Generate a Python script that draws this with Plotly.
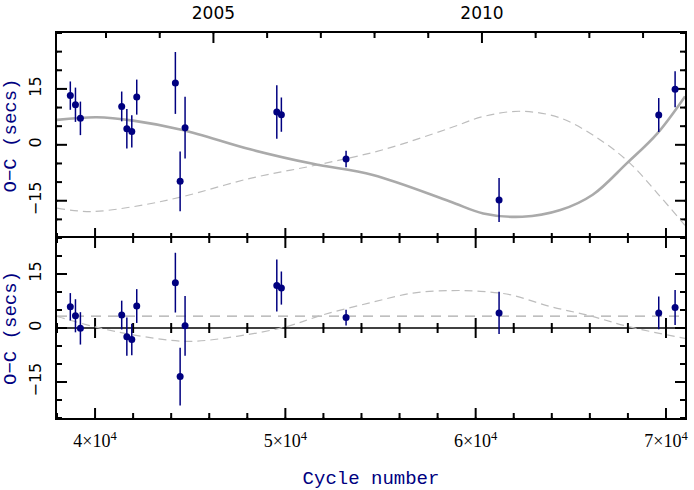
import plotly.graph_objects as go

# ---------------- data ----------------
cycles = [38700, 38970, 39230, 41400, 41670, 41930, 42190, 44220, 44470, 44730,
          49550, 49790, 53190, 61230, 69620, 70480]
oc_secs = [13.2, 10.75, 7.1, 10.3, 4.3, 3.6, 12.8, 16.6, -9.8, 4.6,
           8.8, 8.1, -3.8, -14.8, 8.0, 14.9]
resid_secs = [5.9, 3.4, -0.1, 3.6, -2.4, -3.2, 6.1, 12.6, -13.5, 0.6,
              11.8, 11.1, 2.9, 4.2, 4.2, 5.7]
err_secs = [3.8, 4.6, 4.5, 4.0, 5.3, 4.35, 4.7, 8.3, 8.0, 8.3,
            7.2, 4.6, 2.2, 5.9, 4.55, 4.85]

# top panel model curves
fit_x = [38000, 40100, 42000, 44600, 48150, 51450, 54600, 58650, 60400,
         62450, 64450, 66150, 67950, 69550, 71000]
fit_y = [6.7, 7.4, 6.5, 4.0, -1.2, -5.1, -8.1, -15.2, -18.4,
         -19.3, -17.5, -13.4, -4.9, 3.1, 13.0]
alt_x = [38000, 39750, 42000, 44600, 48150, 51650, 55150, 58650, 60400,
         62350, 64450, 66550, 68100, 69550, 71000]
alt_y = [-17.0, -17.9, -16.6, -13.9, -9.0, -5.4, -1.3, 4.5, 7.6,
         9.0, 7.2, 1.3, -4.9, -13.0, -21.6]

# residual panel model curves
sin_x = [38000, 38400, 40000, 42000, 44850, 47450, 50000, 52000, 54450,
         56700, 58750, 60250, 61800, 63900, 66000, 68100, 71000]
sin_y = [3.2, 2.6, 0.3, -1.9, -3.7, -2.3, 0.3, 3.7, 7.0,
         9.7, 10.4, 10.2, 9.25, 6.0, 3.4, 0.3, -2.9]
flat_x = [38000, 71000]
flat_y = [3.3, 3.3]

# ---------------- axes / ticks ----------------
x_range = [38000, 71000]
top_y_range = [-25, 30]
bot_y_range = [-25, 25]
x_major = [40000, 50000, 60000, 70000]
x_minor = [v for v in range(38000, 71001, 2000) if v not in x_major]
y_major = [-15, 0, 15]
y_major_text = ["−15", "0", "15"]
top_y_minor = [v for v in range(-25, 31, 5) if v not in y_major]
bot_y_minor = [v for v in range(-25, 26, 5) if v not in y_major]
year_major = [2005, 2010]
year_minor = [y for y in range(2003, 2014) if y not in year_major]
CYCLE_AT_2005 = 46220
CYCLES_PER_YEAR = 2822


def cycle_to_year(c):
    return 2005 + (c - CYCLE_AT_2005) / CYCLES_PER_YEAR


NAVY = "#000080"
W, H = 694, 490
M_L, M_R, M_T, M_B = 57, 9, 33, 72
SPLIT = 0.4675
PLOT_W = W - M_L - M_R
PLOT_H = H - M_T - M_B
MAJOR_PX, MINOR_PX = 10, 5
TICK_W = 2.0

X_PER_PX = (x_range[1] - x_range[0]) / PLOT_W
TOP_Y_PER_PX = (top_y_range[1] - top_y_range[0]) / ((1 - SPLIT) * PLOT_H)
BOT_Y_PER_PX = (bot_y_range[1] - bot_y_range[0]) / (SPLIT * PLOT_H)

fig = go.Figure()


def vticks(xs, yv, up_px, down_px, y_per_px, xa, ya):
    n = len(xs)
    fig.add_trace(go.Scatter(
        x=xs, y=[yv] * n, mode="markers", xaxis=xa, yaxis=ya, hoverinfo="skip",
        marker=dict(color="black", size=TICK_W, opacity=1),
        error_y=dict(type="data", symmetric=False, array=[up_px * y_per_px] * n,
                     arrayminus=[down_px * y_per_px] * n, color="#000000",
                     thickness=TICK_W, width=0)))


def hticks(xv, ys, right_px, left_px, xa, ya):
    n = len(ys)
    fig.add_trace(go.Scatter(
        x=[xv] * n, y=ys, mode="markers", xaxis=xa, yaxis=ya, hoverinfo="skip",
        marker=dict(color="black", size=TICK_W, opacity=1),
        error_x=dict(type="data", symmetric=False, array=[right_px * X_PER_PX] * n,
                     arrayminus=[left_px * X_PER_PX] * n, color="#000000",
                     thickness=TICK_W, width=0)))


# ---- top panel ticks ----
vticks(x_major, top_y_range[0], MAJOR_PX, 0, TOP_Y_PER_PX, "x2", "y2")
vticks(x_minor, top_y_range[0], MINOR_PX, 0, TOP_Y_PER_PX, "x2", "y2")
hticks(x_range[0], y_major, MAJOR_PX, 0, "x2", "y2")
hticks(x_range[0], top_y_minor, MINOR_PX, 0, "x2", "y2")
hticks(x_range[1], y_major, 0, MAJOR_PX, "x2", "y2")
hticks(x_range[1], top_y_minor, 0, MINOR_PX, "x2", "y2")
vticks(year_major, top_y_range[1], 0, MAJOR_PX, TOP_Y_PER_PX, "x3", "y2")
vticks(year_minor, top_y_range[1], 0, MINOR_PX, TOP_Y_PER_PX, "x3", "y2")

fig.add_trace(go.Scatter(x=alt_x, y=alt_y, mode="lines", xaxis="x2", yaxis="y2",
                         line=dict(color="#bdbdbd", width=1.2, dash="8px,5px", shape="spline"),
                         hoverinfo="skip"))
fig.add_trace(go.Scatter(x=fit_x, y=fit_y, mode="lines", xaxis="x2", yaxis="y2",
                         line=dict(color="#aaaaaa", width=2.6, shape="spline"),
                         hoverinfo="skip"))
fig.add_trace(go.Scatter(x=cycles, y=oc_secs, mode="markers", xaxis="x2", yaxis="y2",
                         marker=dict(color=NAVY, size=7),
                         error_y=dict(type="data", array=err_secs, color=NAVY,
                                      thickness=1.5, width=0)))

# ---- residual panel ticks ----
vticks(x_major, bot_y_range[0], MAJOR_PX, 0, BOT_Y_PER_PX, "x", "y")
vticks(x_minor, bot_y_range[0], MINOR_PX, 0, BOT_Y_PER_PX, "x", "y")
vticks(x_major, bot_y_range[1], 0, MAJOR_PX, BOT_Y_PER_PX, "x", "y")
vticks(x_minor, bot_y_range[1], 0, MINOR_PX, BOT_Y_PER_PX, "x", "y")
hticks(x_range[0], y_major, MAJOR_PX, 0, "x", "y")
hticks(x_range[0], bot_y_minor, MINOR_PX, 0, "x", "y")
hticks(x_range[1], y_major, 0, MAJOR_PX, "x", "y")
hticks(x_range[1], bot_y_minor, 0, MINOR_PX, "x", "y")
# zero line with ticks on both sides
fig.add_trace(go.Scatter(x=x_range, y=[0, 0], mode="lines", xaxis="x", yaxis="y",
                         line=dict(color="black", width=1.6), hoverinfo="skip"))
vticks(x_major, 0, MAJOR_PX, MAJOR_PX, BOT_Y_PER_PX, "x", "y")
vticks(x_minor, 0, MINOR_PX, MINOR_PX, BOT_Y_PER_PX, "x", "y")

fig.add_trace(go.Scatter(x=flat_x, y=flat_y, mode="lines", xaxis="x", yaxis="y",
                         line=dict(color="#aaaaaa", width=1.2, dash="10px,7px"),
                         hoverinfo="skip"))
fig.add_trace(go.Scatter(x=sin_x, y=sin_y, mode="lines", xaxis="x", yaxis="y",
                         line=dict(color="#bdbdbd", width=1.2, dash="8px,5px",
                                   shape="spline"),
                         hoverinfo="skip"))
fig.add_trace(go.Scatter(x=cycles, y=resid_secs, mode="markers", xaxis="x", yaxis="y",
                         marker=dict(color=NAVY, size=7),
                         error_y=dict(type="data", array=err_secs, color=NAVY,
                                      thickness=1.5, width=0)))

tick_font_x = dict(family="Liberation Serif", size=18, color="black")
tick_font_y = dict(family="DejaVu Sans", size=16, color="black")
title_font = dict(family="Liberation Mono", size=19, color=NAVY)

base = dict(showline=True, linecolor="black", linewidth=1.6, showgrid=False,
            zeroline=False, ticks="", automargin=False)

fig.update_layout(
    width=W, height=H,
    margin=dict(l=M_L, r=M_R, t=M_T, b=M_B, autoexpand=False),
    paper_bgcolor="white", plot_bgcolor="white",
    showlegend=False,
    xaxis=dict(**base, domain=[0, 1], anchor="y", range=x_range, mirror=True,
               tickmode="array", tickvals=x_major,
               exponentformat="power", showexponent="all",
               tickfont=tick_font_x, ticklabelstandoff=6,
               title=dict(text="Cycle number", font=title_font, standoff=26)),
    yaxis=dict(**base, domain=[0, SPLIT], anchor="x", range=bot_y_range, mirror=True,
               tickmode="array", tickvals=y_major, ticktext=y_major_text,
               tickangle=-90, tickfont=tick_font_y, ticklabelstandoff=8,
               title=dict(text="O−C (secs)", font=title_font, standoff=8)),
    xaxis2=dict(showline=False, showgrid=False, zeroline=False, ticks="",
                automargin=False, domain=[0, 1], anchor="y2", range=x_range,
                showticklabels=False),
    yaxis2=dict(**base, domain=[SPLIT, 1], anchor="x2", range=top_y_range, mirror=True,
                tickmode="array", tickvals=y_major, ticktext=y_major_text,
                tickangle=-90, tickfont=tick_font_y, ticklabelstandoff=8,
                title=dict(text="O−C (secs)", font=title_font, standoff=8)),
    xaxis3=dict(**base, overlaying="x2", anchor="y2", side="top",
                range=[cycle_to_year(x_range[0]), cycle_to_year(x_range[1])],
                tickmode="array", tickvals=year_major,
                ticktext=[str(y) for y in year_major],
                tickfont=dict(family="DejaVu Sans", size=17, color="black"),
                ticklabelstandoff=5),
)

fig.write_html("out.html")
